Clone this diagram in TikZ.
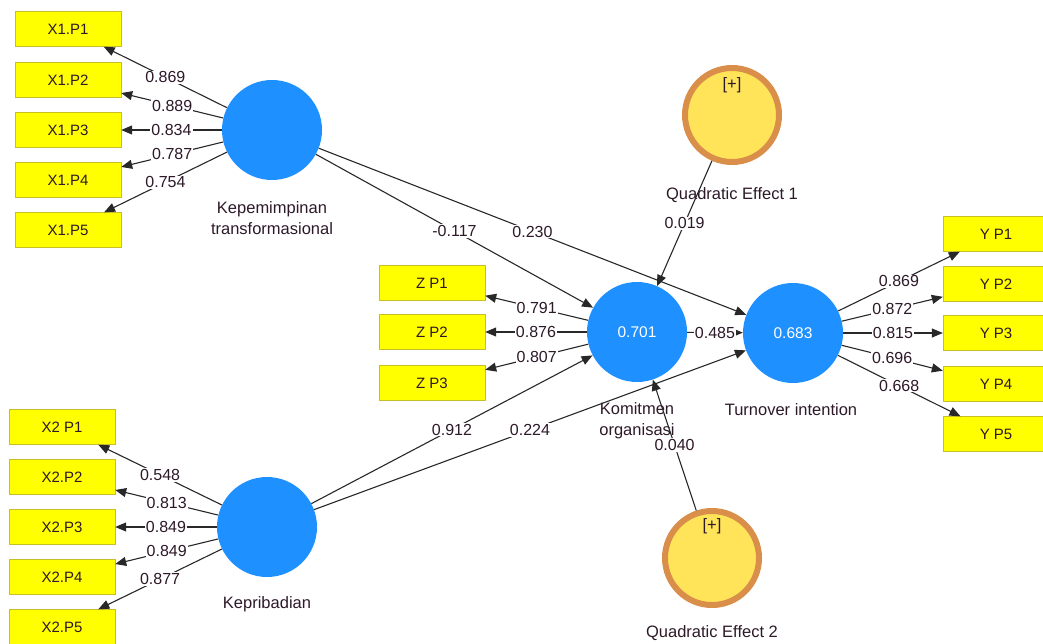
\documentclass[tikz,border=0pt]{standalone}
\usepackage{fontspec}
\setmainfont{Liberation Sans}
\usepackage{tikz}
\usepackage{xcolor}
\usetikzlibrary{arrows.meta}

\definecolor{lvblue}{RGB}{30,144,255}
\definecolor{indyellow}{RGB}{255,255,0}
\definecolor{indborder}{RGB}{200,190,40}
\definecolor{qefill}{RGB}{255,228,90}
\definecolor{qering}{RGB}{217,142,74}
\definecolor{labeltext}{RGB}{45,25,40}
\definecolor{linegray}{RGB}{40,40,40}

\begin{document}
\begin{tikzpicture}[x=1pt,y=-1pt,
  ind/.style={rectangle,draw=indborder,fill=indyellow,minimum width=106pt,minimum height=35pt,inner sep=0pt,text=labeltext,font=\fontsize{15}{18}\selectfont},
  lv/.style={circle,fill=lvblue,minimum size=100pt,inner sep=0pt,text=white,font=\fontsize{15.5}{18}\selectfont},
  qe/.style={circle,fill=qefill,draw=qering,line width=6pt,minimum size=94pt,inner sep=0pt},
  lbl/.style={text=labeltext,align=center,font=\fontsize{16.5}{21}\selectfont},
  coef/.style={fill=white,inner sep=1pt,text=labeltext,font=\fontsize{16}{18}\selectfont},
  arr/.style={draw=linegray,line width=1.1pt,-{Triangle[length=11pt,width=9pt]}}]
\useasboundingbox (0,0) rectangle (1043,644);
\clip (0,0) rectangle (1043,644);

% indicators
\node [ind] (x1p1) at (68,29) {X1.P1};
\node [ind] (x1p2) at (68,80) {X1.P2};
\node [ind] (x1p3) at (68,130) {X1.P3};
\node [ind] (x1p4) at (68,180) {X1.P4};
\node [ind] (x1p5) at (68,230) {X1.P5};
\node [ind] (x2p1) at (62,427) {X2 P1};
\node [ind] (x2p2) at (62,477) {X2.P2};
\node [ind] (x2p3) at (62,527) {X2.P3};
\node [ind] (x2p4) at (62,577) {X2.P4};
\node [ind] (x2p5) at (62,627) {X2.P5};
\node [ind] (zp1) at (432,283) {Z P1};
\node [ind] (zp2) at (432,332) {Z P2};
\node [ind] (zp3) at (432,383) {Z P3};
\node [ind] (yp1) at (996,234) {Y P1};
\node [ind] (yp2) at (996,284) {Y P2};
\node [ind] (yp3) at (996,333) {Y P3};
\node [ind] (yp4) at (996,384) {Y P4};
\node [ind] (yp5) at (996,434) {Y P5};

% latent variables
\node [lv] (kep) at (272,130) {};
\node [lv] (kepri) at (267,527) {};
\node [lv] (kom) at (637,332) {0.701};
\node [lv] (turn) at (793,333) {0.683};
\node [qe] (qe1) at (732,115) {};
\node [qe] (qe2) at (712,558) {};
\node [lbl] at ([yshift=30pt]qe1.center) {[+]};
\node [lbl] at ([yshift=32pt]qe2.center) {[+]};

\node [lbl] (keplbl) at (272,218) {Kepemimpinan\\transformasional};
\node [lbl] (kepriLbl) at (267,604) {Kepribadian};
\node [lbl] (komlbl) at (637,421) {Komitmen\\organisasi};
\node [lbl] (turnlbl) at (791,410) {Turnover intention};
\node [lbl] (qe1lbl) at (732,195) {Quadratic Effect 1};
\node [lbl] (qe2lbl) at (712,633) {Quadratic Effect 2};

% outer loadings
\draw [arr] (kep) -- node[coef] {0.869} (x1p1);
\draw [arr] (kep) -- node[coef] {0.889} (x1p2);
\draw [arr] (kep) -- node[coef] {0.834} (x1p3);
\draw [arr] (kep) -- node[coef] {0.787} (x1p4);
\draw [arr] (kep) -- node[coef] {0.754} (x1p5);
\draw [arr] (kepri) -- node[coef] {0.548} (x2p1);
\draw [arr] (kepri) -- node[coef] {0.813} (x2p2);
\draw [arr] (kepri) -- node[coef] {0.849} (x2p3);
\draw [arr] (kepri) -- node[coef] {0.849} (x2p4);
\draw [arr] (kepri) -- node[coef] {0.877} (x2p5);
\draw [arr] (kom) -- node[coef] {0.791} (zp1);
\draw [arr] (kom) -- node[coef] {0.876} (zp2);
\draw [arr] (kom) -- node[coef] {0.807} (zp3);
\draw [arr] (turn) -- node[coef] {0.869} (yp1);
\draw [arr] (turn) -- node[coef] {0.872} (yp2);
\draw [arr] (turn) -- node[coef] {0.815} (yp3);
\draw [arr] (turn) -- node[coef] {0.696} (yp4);
\draw [arr] (turn) -- node[coef] {0.668} (yp5);

% path coefficients
\draw [arr] (kep) -- node[coef] {-0.117} (kom);
\draw [arr] (kep) -- node[coef] {0.230} (turn);
\draw [arr] (kepri) -- node[coef] {0.912} (kom);
\draw [arr] (kepri) -- node[coef] {0.224} (turn);
\draw [arr] (kom) -- node[coef] {0.485} (turn);
\draw [arr] (qe1) -- node[coef] {0.019} (kom);
\draw [arr] (qe2) -- node[coef] {0.040} (kom);
\end{tikzpicture}
\end{document}
